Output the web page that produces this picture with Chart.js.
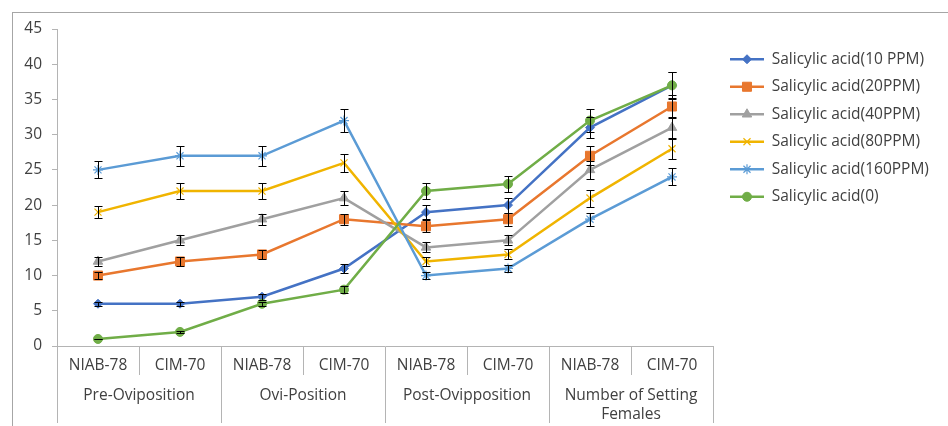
<!DOCTYPE html>
<html>
<head>
<meta charset="utf-8">
<script src="https://cdn.jsdelivr.net/npm/chart.js@4.4.1/dist/chart.umd.min.js"></script>
<style>
html, body { margin: 0; padding: 0; background: #fff; }
#wrap { position: relative; width: 948px; height: 426px; }
#frame { position: absolute; left: 12px; top: 12px; right: 0; bottom: 0; border-top: 1px solid #a6a6a6; border-left: 1px solid #a6a6a6; }
canvas { position: absolute; left: 0; top: 0; }
</style>
</head>
<body>
<div id="wrap">
  <div id="frame"></div>
  <canvas id="chartStages" width="948" height="426"></canvas>
</div>
<script>
// categories
var cultivars = ['NIAB-78', 'CIM-70', 'NIAB-78', 'CIM-70', 'NIAB-78', 'CIM-70', 'NIAB-78', 'CIM-70'];
var stages = ['Pre-Oviposition', 'Ovi-Position', 'Post-Ovipposition', ['Number of Setting', 'Females']];
var yTicks = [0, 5, 10, 15, 20, 25, 30, 35, 40, 45];

// series values
var sa10  = [6, 6, 7, 11, 19, 20, 31, 37];
var sa20  = [10, 12, 13, 18, 17, 18, 27, 34];
var sa40  = [12, 15, 18, 21, 14, 15, 25, 31];
var sa80  = [19, 22, 22, 26, 12, 13, 21, 28];
var sa160 = [25, 27, 27, 32, 10, 11, 18, 24];
var sa0   = [1, 2, 6, 8, 22, 23, 32, 37];

// error bar half widths
var err10  = [0.3, 0.3, 0.4, 0.6, 0.95, 1.05, 1.5, 1.85];
var err20  = [0.5, 0.6, 0.65, 0.8, 0.85, 0.9, 1.35, 1.7];
var err40  = [0.6, 0.7, 0.8, 1.05, 0.7, 0.7, 1.3, 1.5];
var err80  = [0.9, 1.1, 1.1, 1.3, 0.6, 0.7, 1.2, 1.45];
var err160 = [1.2, 1.4, 1.4, 1.6, 0.5, 0.5, 0.9, 1.2];
var err0   = [0.05, 0.1, 0.3, 0.45, 1.15, 1.2, 1.6, 1.9];

var txt = '#404040';
var axisCol = '#b4b4b4';
var fs = 15.5;
Chart.defaults.font.family = "'Open Sans', sans-serif";
Chart.defaults.font.size = fs;
Chart.defaults.color = txt;

function series(label, data, errors, color, style, radius, bw, order) {
    return {
        label: label,
        data: data,
        errors: errors,
        borderColor: color,
        backgroundColor: color,
        borderWidth: 2.5,
        pointStyle: style,
        pointRadius: radius,
        pointHoverRadius: radius,
        pointBackgroundColor: color,
        pointBorderColor: color,
        pointBorderWidth: bw,
        tension: 0,
        fill: false,
        order: order
    };
}

var errorBars = {
    id: 'errorBars',
    afterDatasetsDraw: function(chart) {
        var ctx = chart.ctx;
        var y = chart.scales.y;
        ctx.save();
        ctx.strokeStyle = '#000';
        ctx.lineWidth = 1;
        chart.data.datasets.forEach(function(ds, i) {
            var meta = chart.getDatasetMeta(i);
            meta.data.forEach(function(pt, j) {
                var e = ds.errors[j];
                if (!e) return;
                var top = Math.round(y.getPixelForValue(ds.data[j] + e)) + 0.5;
                var bot = Math.round(y.getPixelForValue(ds.data[j] - e)) + 0.5;
                var x = Math.round(pt.x) + 0.5;
                ctx.beginPath();
                ctx.moveTo(x, top); ctx.lineTo(x, bot);
                ctx.moveTo(x - 4, top); ctx.lineTo(x + 4, top);
                ctx.moveTo(x - 4, bot); ctx.lineTo(x + 4, bot);
                ctx.stroke();
            });
        });
        ctx.restore();
    }
};

// nudge the legend a little right of the plot, like Excel does
var legendNudge = {
    id: 'legendNudge',
    afterLayout: function(chart) {
        var lg = chart.legend;
        if (!lg) return;
        lg.left += 5;
        lg.right += 5;
    }
};

var legendMarkers = {
    id: 'legendMarkers',
    afterDraw: function(chart) {
        var lg = chart.legend;
        if (!lg || !lg.legendHitBoxes) return;
        var ctx = chart.ctx;
        var bw = lg.options.labels.boxWidth;
        lg.legendHitBoxes.forEach(function(hb, i) {
            var ds = chart.data.datasets[lg.legendItems[i].datasetIndex];
            ctx.save();
            ctx.fillStyle = ds.pointBackgroundColor;
            ctx.strokeStyle = ds.pointBorderColor;
            ctx.lineWidth = ds.pointBorderWidth;
            Chart.helpers.drawPoint(ctx, {
                pointStyle: ds.pointStyle,
                radius: ds.pointRadius,
                rotation: 0,
                borderWidth: ds.pointBorderWidth
            }, hb.left + bw / 2, hb.top + hb.height / 2);
            ctx.restore();
        });
    }
};

function drawChart() {
    var ctx = document.getElementById('chartStages');
    var data = {
        labels: cultivars,
        datasets: [
            series('Salicylic acid(10 PPM)', sa10, err10, '#4472C4', 'rectRot', 4.5, 1, 5),
            series('Salicylic acid(20PPM)', sa20, err20, '#E8772E', 'rect', 6.4, 1, 4),
            series('Salicylic acid(40PPM)', sa40, err40, '#A0A0A0', 'triangle', 5.5, 1, 3),
            series('Salicylic acid(80PPM)', sa80, err80, '#F0B400', 'crossRot', 5, 1.2, 2),
            series('Salicylic acid(160PPM)', sa160, err160, '#5B9BD5', 'star', 5, 1.2, 1),
            series('Salicylic acid(0)', sa0, err0, '#70AD47', 'circle', 4.5, 1, 0)
        ]
    };
    var options = {
        responsive: false,
        animation: false,
        devicePixelRatio: 1,
        layout: { padding: { top: 29, left: 0, right: 20, bottom: 0 } },
        plugins: {
            tooltip: { enabled: false },
            legend: {
                position: 'right',
                align: 'start',
                maxWidth: 215,
                title: { display: true, text: ' ', font: { size: 6, lineHeight: 1 }, padding: { top: 2, bottom: 2.5 } },
                labels: {
                    boxWidth: 34,
                    boxHeight: 2.5,
                    padding: 12,
                    color: txt,
                    font: { size: fs },
                    sort: function(a, b) { return a.datasetIndex - b.datasetIndex; },
                    generateLabels: function(chart) {
                        var items = Chart.defaults.plugins.legend.labels.generateLabels(chart);
                        items.forEach(function(it) {
                            var ds = chart.data.datasets[it.datasetIndex];
                            it.fillStyle = ds.borderColor;
                            it.lineWidth = 0;
                        });
                        return items;
                    }
                }
            }
        },
        scales: {
            x: {
                type: 'category',
                position: 'bottom',
                offset: true,
                weight: 0,
                grid: { offset: true, drawOnChartArea: false, tickLength: 29, color: axisCol },
                border: { color: axisCol },
                ticks: { padding: -19, autoSkip: false, maxRotation: 0, color: txt, font: { size: fs, lineHeight: 1.25 } },
                afterFit: function(s) { s.height = 29; }
            },
            x2: {
                type: 'category',
                position: 'bottom',
                labels: stages,
                offset: true,
                weight: 1,
                grid: { offset: true, drawOnChartArea: false, tickLength: 48, color: axisCol },
                border: { display: false },
                ticks: { padding: -37, autoSkip: false, maxRotation: 0, color: txt, font: { size: fs, lineHeight: 1.25 } },
                afterFit: function(s) { s.height = 51; }
            },
            y: {
                min: 0,
                max: 45,
                grid: { drawOnChartArea: false, tickLength: 5, color: axisCol },
                border: { color: axisCol },
                ticks: { padding: 10, color: txt, font: { size: fs } },
                afterBuildTicks: function(s) { s.ticks = yTicks.map(function(v) { return { value: v }; }); },
                afterFit: function(s) { s.width = 57; }
            }
        }
    };
    var chartStages = new Chart(ctx, {
        type: 'line',
        data: data,
        options: options,
        plugins: [errorBars, legendNudge, legendMarkers]
    });
}

drawChart();
</script>
</body>
</html>
